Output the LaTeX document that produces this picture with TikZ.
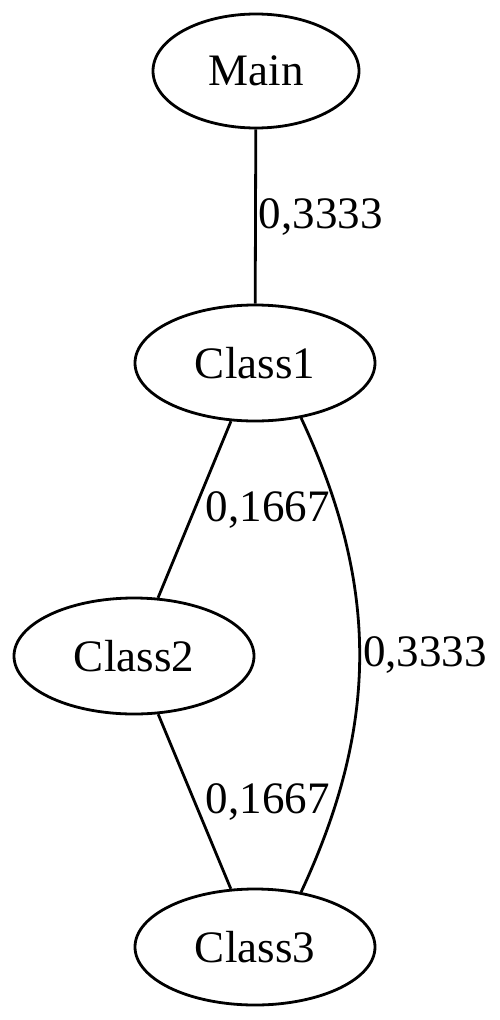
\documentclass[tikz,border=0pt]{standalone}
\usepackage{fontspec}
\setmainfont{Liberation Serif}
\usetikzlibrary{shapes.geometric}
\tikzstyle{cls}=[ellipse, draw=black, line width=2.8pt, minimum width=240pt, minimum height=116pt, inner sep=0pt]
\tikzstyle{wt}=[inner sep=2pt]
\tikzstyle{edg}=[line width=2.8pt]

\begin{document}
\begin{tikzpicture}[x=1pt, y=1pt, font=\fontsize{45}{54}\selectfont]
  \useasboundingbox (0,0) rectangle (500,-1020);
  %
  \node at (256,-71) [cls, minimum width=206pt, minimum height=114pt] (main) {Main};
  \node at (255,-363) [cls] (class1) {Class1};
  \node at (134,-656) [cls] (class2) {Class2};
  \node at (255,-947) [cls] (class3) {Class3};
  %
  \draw [edg] (main) -- node[wt, right] {0,3333} (class1);
  \draw [edg] (class1) -- node[wt, right=8pt] {0,1667} (class2);
  \draw [edg] (class2) -- node[wt, right=8pt] {0,1667} (class3);
  \draw [edg] (class1.-50) to[out=-65, in=65] node[wt, right] {0,3333} (class3.50);
  %
\end{tikzpicture}
\end{document}
